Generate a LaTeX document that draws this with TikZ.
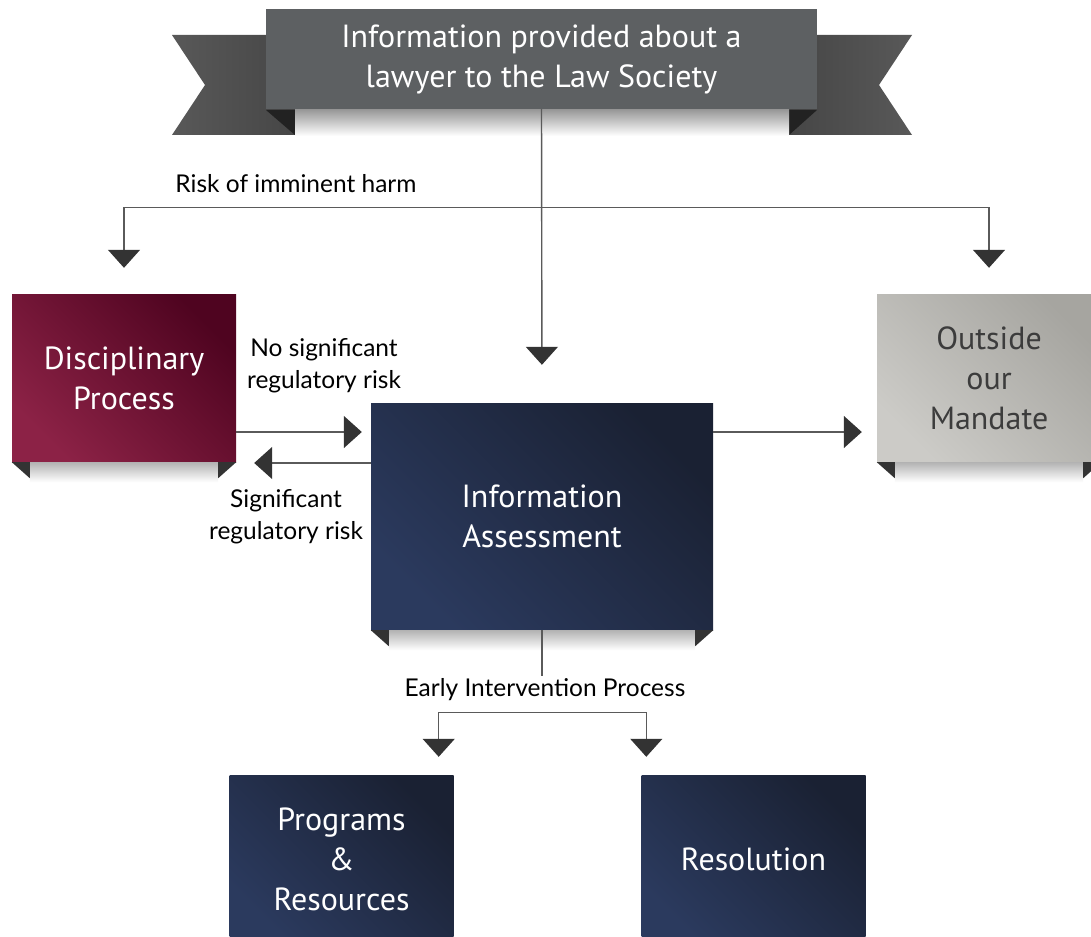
\documentclass[tikz,border=0pt]{standalone}
\usepackage{fontspec}
\usetikzlibrary{arrows.meta,positioning}

\newfontfamily\boxfont{PT Sans}
\newfontfamily\lblfont{Lato}

\definecolor{bannergray}{HTML}{5D6062}
\definecolor{ribbongray}{HTML}{464646}
\definecolor{folddark}{HTML}{222222}
\definecolor{wineDark}{HTML}{4F0420}
\definecolor{wineLight}{HTML}{8C2246}
\definecolor{navyDark}{HTML}{1A2133}
\definecolor{navyLight}{HTML}{2B3A5E}
\definecolor{stoneDark}{HTML}{A6A5A0}
\definecolor{stoneLight}{HTML}{CCCBC7}
\definecolor{stoneText}{HTML}{3C3C3C}
\definecolor{linegray}{HTML}{5A5A5A}
\definecolor{tipgray}{HTML}{333333}

\begin{document}
\begin{tikzpicture}[%
    x=1pt, y=-1pt,              % work in pixel-like units, y going down
    >={Triangle[width=32pt,length=18pt,color=tipgray]},
    ]
% -------------------------------------------------
% Box and connector styles
\tikzset{
  base/.style={inner sep=0pt, align=center, font=\boxfont\fontsize{32}{40}\selectfont},
  card/.style={base, minimum width=224pt, minimum height=168pt, text=white},
  wine/.style={card, top color=wineDark, bottom color=wineLight, shading angle=-45},
  navy/.style={card, top color=navyDark, bottom color=navyLight, shading angle=-45},
  stone/.style={card, top color=stoneDark, bottom color=stoneLight, shading angle=-45, text=stoneText},
  tab/.style={fill=tipgray},
  % Connector line styles
  line/.style={draw=linegray, line width=1.4pt},
  conn/.style={line, ->},
  lbl/.style={align=center, font=\lblfont\fontsize{24.5}{32}\selectfont}
}
\clip (0,0) rectangle (1091,936);
% -------------------------------------------------
% Ribbon ends behind the title banner
\shade[left color=ribbongray!90, right color=ribbongray]
  (172,35) -- (295,35) -- (295,135) -- (172,135) -- (205,85) -- cycle;
\shade[right color=ribbongray!90, left color=ribbongray]
  (912,35) -- (789,35) -- (789,135) -- (912,135) -- (879,85) -- cycle;
\fill[folddark] (266,110) -- (295,110) -- (295,135) -- cycle;
\fill[folddark] (817,110) -- (789,110) -- (789,135) -- cycle;
\shade[top color=black!40, bottom color=white] (295,110) rectangle (789,136);

% -------------------------------------------------
% Place the nodes
\node [base, fill=bannergray, text=white, minimum width=551pt, minimum height=100pt]
  (banner) at (541.5,59) {Information provided about a\\lawyer to the Law Society};
\node [wine] (disc) at (124,378) {Disciplinary\\Process};
\node [navy, minimum width=342pt, minimum height=227pt] (info) at (542,516.5)
  {Information\\Assessment};
\node [stone] (outside) at (989,378) {Outside\\our\\Mandate};
\node [navy] (prog) at (341.5,859) {Programs\\\&\\Resources};
\node [navy] (res) at (753.5,859) {Resolution};

% Folded corners and soft shadow under each card
\foreach \n in {disc,info,outside}{
  \shade[top color=black!30, bottom color=white]
    ([xshift=18pt]\n.south west) rectangle ([xshift=-18pt,yshift=-20pt]\n.south east);
  \fill[tab] (\n.south west) -- ++(18,0) -- ++(0,16) -- cycle;
  \fill[tab] (\n.south east) -- ++(-18,0) -- ++(0,16) -- cycle;
}

% -------------------------------------------------
% Connectors
\path (banner.south) ++(0,98) coordinate (fork);
\draw [conn, shorten >=38pt] (banner.south) -- (info.north);
\draw [conn, shorten >=26pt] (fork) -| (disc.north);
\draw [conn, shorten >=26pt] (fork) -| (outside.north);
\node [lbl] (harm) at (296,184) {Risk of imminent harm};

\draw [conn, shorten >=9pt] ([yshift=-54pt]disc.east) -- ([yshift=-54pt]disc.east -| info.west);
\draw [conn, shorten >=18pt] ([yshift=-85pt]disc.east -| info.west) -- ([yshift=-85pt]disc.east);
\node [lbl] (norisk) at (324,366) {No significant\\regulatory risk};
\node [lbl] (risk) at (286,517) {Significant\\regulatory risk};

\draw [conn, shorten >=15pt] ([yshift=-54pt]outside.west -| info.east) -- ([yshift=-54pt]outside.west);

\draw [line] (info.south) -- ++(0,46);
\node [lbl] (early) at (545,690) {Early Intervention Process};
\path (info.south) ++(0,82) coordinate (split);
\draw [conn, shorten >=18pt] (split) -| ([xshift=-15pt]prog.north east);
\draw [conn, shorten >=18pt] (split) -| ([xshift=5pt]res.north west);
% -------------------------------------------------
\end{tikzpicture}
\end{document}
